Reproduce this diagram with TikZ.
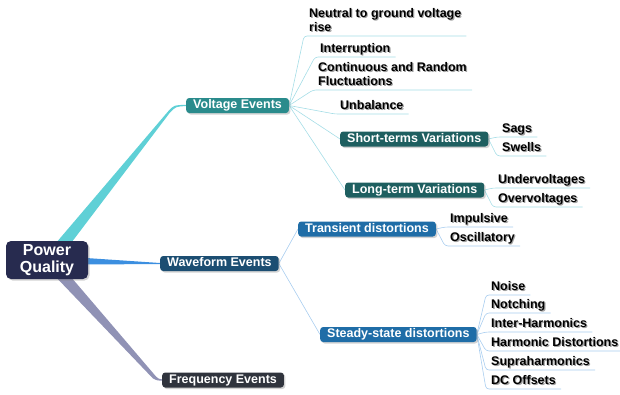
\documentclass[tikz,border=0pt]{standalone}
\usepackage{fontspec}
\setmainfont{Liberation Sans}
\usetikzlibrary{shadows,calc,backgrounds}
\definecolor{rootc}{HTML}{272B4F}
\definecolor{vec}{HTML}{2A8B8C}
\definecolor{vsub}{HTML}{1E5F60}
\definecolor{wfc}{HTML}{1C4E72}
\definecolor{wsub}{HTML}{1F6DA7}
\definecolor{fqc}{HTML}{30343D}
\definecolor{vbr}{HTML}{5FD0D6}
\definecolor{wbr}{HTML}{3C8FE0}
\definecolor{fbr}{HTML}{9092B5}
\definecolor{vlc}{HTML}{A5DDE6}
\definecolor{wlc}{HTML}{A8CDEF}
\definecolor{shc}{HTML}{A0A0A0}
\newcommand\shd[1]{\leavevmode\rlap{\hspace{1.1pt}\raisebox{-1.1pt}{\textcolor{shc}{#1}}}#1}
\tikzset{
  root/.style={fill=rootc, text=white, rounded corners=5pt, align=center,
    font=\fontsize{16}{17}\selectfont\bfseries, minimum width=82pt, minimum height=38pt,
    inner sep=1pt, drop shadow={shadow xshift=1.5pt, shadow yshift=-1.5pt, opacity=0.35}},
  box/.style={rounded corners=3pt, text=white, anchor=west,
    font=\fontsize{12.5}{14}\selectfont\bfseries, inner xsep=7pt, inner ysep=0pt,
    minimum height=15pt, text height=9pt, text depth=3pt,
    drop shadow={shadow xshift=1.5pt, shadow yshift=-1.5pt, opacity=0.35}},
  leaf/.style={anchor=south west, inner xsep=5pt, inner ysep=1pt, text depth=3pt,
    align=left, font=\fontsize{12.5}{14}\selectfont\bfseries},
  vline/.style={draw=vlc, line width=0.6pt, rounded corners=3pt},
  wline/.style={draw=wlc, line width=0.6pt, rounded corners=3pt}
}
\begin{document}
\begin{tikzpicture}[x=1pt,y=-1pt]
\useasboundingbox (0,0) rectangle (620,394);
% nodes
\node[root] (pq) at (47,260) {Power\\Quality};
\node[box, fill=vec] (ve) at (186,105.5) {Voltage Events};
\node[box, fill=wfc] (wf) at (160,263.5) {Waveform Events};
\node[box, fill=fqc] (fe) at (162,380) {Frequency Events};
% voltage subtree
\node[leaf] (n1) at (304,36) {\shd{Neutral to ground voltage}\\\shd{rise}};
\node[leaf] (n2) at (315,57) {\shd{Interruption}};
\node[leaf] (n3) at (313,90) {\shd{Continuous and Random}\\\shd{Fluctuations}};
\node[leaf] (n4) at (335,114) {\shd{Unbalance}};
\node[box, fill=vsub] (st) at (340,139) {Short-terms Variations};
\node[box, fill=vsub] (lt) at (345,190) {Long-term Variations};
\node[leaf] (sg) at (497,137) {\shd{Sags}};
\node[leaf] (sw) at (497,156) {\shd{Swells}};
\node[leaf] (uv) at (493,188) {\shd{Undervoltages}};
\node[leaf] (ov) at (493,207) {\shd{Overvoltages}};
% waveform subtree
\node[box, fill=wsub] (tr) at (298,229) {Transient distortions};
\node[box, fill=wsub] (ss) at (320,334.5) {Steady-state distortions};
\node[leaf] (im) at (445,227) {\shd{Impulsive}};
\node[leaf] (os) at (445,246) {\shd{Oscillatory}};
\node[leaf] (no) at (486,295) {\shd{Noise}};
\node[leaf] (nt) at (486,313) {\shd{Notching}};
\node[leaf] (ih) at (486,332) {\shd{Inter-Harmonics}};
\node[leaf] (hd) at (486,351) {\shd{Harmonic Distortions}};
\node[leaf] (sh) at (486,370) {\shd{Supraharmonics}};
\node[leaf] (dc) at (486,389) {\shd{DC Offsets}};
% connectors
\begin{scope}[on background layer]
\fill[vbr] ($(pq.north)+(10,1)$) -- ($(ve.west)+(-18,6)$)
  .. controls ($(ve.west)+(-12,-0.5)$) .. ($(ve.west)+(0,-0.6)$)
  -- ($(ve.west)+(0,0.6)$)
  .. controls ($(ve.west)+(-10,1)$) .. ($(ve.west)+(-16,7)$)
  -- ($(pq.north)+(25,1)$) -- cycle;
\fill[wbr] ($(pq.east)+(-2,-2)$) .. controls ($(pq.east)+(35,1)$) .. ($(wf.west)+(0,-0.5)$)
  -- ($(wf.west)+(0,0.5)$) .. controls ($(pq.east)+(35,4)$) .. ($(pq.east)+(-2,4.5)$) -- cycle;
\fill[fbr] ($(pq.south)+(10,-1)$) -- ($(fe.west)+(-9,-1.5)$)
  .. controls ($(fe.west)+(-5,0.5)$) .. ($(fe.west)+(0,0.6)$)
  -- ($(fe.west)+(0,-0.6)$)
  .. controls ($(fe.west)+(-3,-1)$) .. ($(fe.west)+(-6,-3.5)$)
  -- ($(pq.south)+(25,-1)$) -- cycle;
\foreach \c in {n1,n2,n3,n4}{\draw[vline] (ve.east) -- (\c.south west) -- (\c.south east);}
\draw[vline] (ve.east) -- (st.west);
\draw[vline] (ve.east) -- (lt.west);
\foreach \c in {sg,sw}{\draw[vline] (st.east) -- (\c.south west) -- (\c.south east);}
\foreach \c in {uv,ov}{\draw[vline] (lt.east) -- (\c.south west) -- (\c.south east);}
\draw[wline] (wf.east) -- (tr.west);
\draw[wline] (wf.east) -- (ss.west);
\foreach \c in {im,os}{\draw[wline] (tr.east) -- (\c.south west) -- (\c.south east);}
\foreach \c in {no,nt,ih,hd,sh,dc}{\draw[wline] (ss.east) -- (\c.south west) -- (\c.south east);}
\end{scope}
\end{tikzpicture}
\end{document}
